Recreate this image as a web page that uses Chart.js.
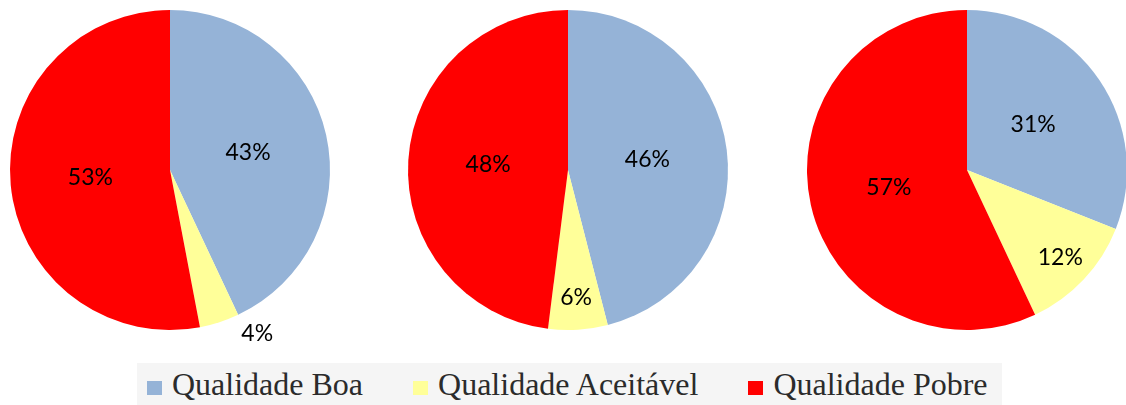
<!DOCTYPE html>
<html>
<head>
<meta charset="utf-8">
<script src="https://cdn.jsdelivr.net/npm/chart.js@4/dist/chart.umd.min.js"></script>
<style>
    html, body { margin: 0; padding: 0; background: #fff; }
    body { width: 1126px; height: 405px; position: relative; overflow: hidden; }
    canvas { position: absolute; top: 0; }
    #legend {
        position: absolute; left: 137px; top: 363px; width: 855px; height: 42px;
        padding-left: 10px; background: #f5f5f5;
        font-family: "Liberation Serif", "Times New Roman", serif; font-size: 32px;
        line-height: 32px; color: #2b2b2b; white-space: nowrap;
    }
    #legend .item { display: inline-block; margin-right: 50px; padding-top: 5px; }
    #legend .box { display: inline-block; width: 15px; height: 14px; margin-right: 10px; vertical-align: baseline; }
</style>
</head>
<body>
<canvas id="pie1" width="380" height="360" style="left:-20px"></canvas>
<canvas id="pie2" width="380" height="360" style="left:378px"></canvas>
<canvas id="pie3" width="380" height="360" style="left:777px"></canvas>
<div id="legend"></div>
<script>
const CATEGORIES = ['Qualidade Boa', 'Qualidade Aceitável', 'Qualidade Pobre'];
const COLORS = ['#95b3d7', '#ffff99', '#ff0000'];

// percentages, one array per pie (left to right)
const PIE1 = [43, 4, 53];
const PIE2 = [46, 6, 48];
const PIE3 = [31, 12, 57];

// draws "NN%" on each slice, small ones pushed toward the rim or outside
const pctLabels = {
    id: 'pctLabels',
    afterDatasetsDraw(chart) {
        const ctx = chart.ctx;
        const meta = chart.getDatasetMeta(0);
        const values = chart.data.datasets[0].data;
        ctx.save();
        ctx.font = '23px Lato, "Noto Sans", sans-serif';
        ctx.fillStyle = '#000';
        ctx.textAlign = 'center';
        ctx.textBaseline = 'middle';
        meta.data.forEach((arc, i) => {
            const p = arc.getProps(['x', 'y', 'startAngle', 'endAngle', 'outerRadius'], true);
            const v = values[i];
            let mid = (p.startAngle + p.endAngle) / 2;
            let k = 0.5;
            if (v < 5) { k = 1.16; mid -= 0.175; }
            else if (v < 20) k = 0.8;
            const x = p.x + Math.cos(mid) * p.outerRadius * k;
            const y = p.y + Math.sin(mid) * p.outerRadius * k;
            ctx.fillText(v + '%', x, y);
        });
        ctx.restore();
    }
};

function makePie(id, values) {
    return new Chart(document.getElementById(id), {
        type: 'pie',
        data: {
            labels: CATEGORIES,
            datasets: [{ data: values, backgroundColor: COLORS, borderWidth: 0 }],
        },
        options: {
            responsive: false,
            animation: false,
            layout: { padding: { top: 10, bottom: 30, left: 30, right: 30 } },
            plugins: { legend: { display: false }, tooltip: { enabled: false } },
        },
        plugins: [pctLabels],
    });
}

makePie('pie1', PIE1);
makePie('pie2', PIE2);
makePie('pie3', PIE3);

document.getElementById('legend').innerHTML = CATEGORIES
    .map((c, i) => `<span class="item"><span class="box" style="background:${COLORS[i]}"></span>${c}</span>`)
    .join('');
</script>
</body>
</html>
